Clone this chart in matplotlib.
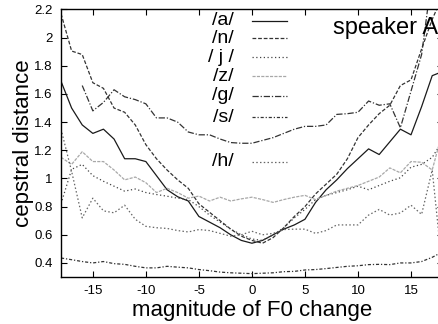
import matplotlib
matplotlib.use("Agg")
import matplotlib.pyplot as plt
import numpy as np

plt.rcParams['font.family'] = ['Liberation Sans', 'DejaVu Sans']

# magnitude of F0 change (semitone steps)
f0 = np.arange(-18, 19)

nan = np.nan
d_a = [1.69, 1.50, 1.38, 1.32, 1.35, 1.28, 1.14, 1.14, 1.12, 1.02, 0.92, 0.87, 0.84,
       0.73, 0.69, 0.65, 0.60, 0.56, 0.54, 0.56, 0.60, 0.64, 0.67, 0.71, 0.83, 0.92,
       0.99, 1.07, 1.14, 1.21, 1.17, 1.26, 1.35, 1.31, 1.51, 1.73, 1.76]
d_n = [2.17, 1.905, 1.88, 1.68, 1.64, 1.50, 1.47, 1.38, 1.24, 1.14, 1.06, 0.99, 0.93,
       0.82, 0.76, 0.70, 0.64, 0.59, 0.56, 0.54, 0.58, 0.65, 0.73, 0.80, 0.89, 0.96,
       1.03, 1.14, 1.29, 1.38, 1.46, 1.52, 1.66, 1.70, 1.92, 2.13, 2.30]
d_j = [0.82, 1.065, 1.10, 1.02, 0.98, 0.945, 0.91, 0.925, 0.90, 0.886, 0.874, 0.86, 0.85,
       0.80, 0.74, 0.69, 0.64, 0.60, 0.57, 0.56, 0.60, 0.65, 0.72, 0.78, 0.85, 0.88,
       0.90, 0.92, 0.945, 0.92, 0.95, 0.98, 1.005, 1.08, 1.10, 1.15, 1.27]
d_z = [1.15, 1.10, 1.19, 1.12, 1.12, 1.06, 0.99, 1.01, 0.97, 0.90, 0.93, 0.90, 0.86,
       0.875, 0.84, 0.867, 0.84, 0.855, 0.867, 0.85, 0.83, 0.85, 0.867, 0.88, 0.85, 0.88,
       0.91, 0.93, 0.95, 0.98, 1.01, 1.075, 1.04, 1.12, 1.115, 1.06, 1.34]
d_g = [nan, nan, 1.66, 1.48, 1.54, 1.63, 1.58, 1.56, 1.53, 1.43, 1.43, 1.40, 1.33,
       1.31, 1.31, 1.28, 1.255, 1.25, 1.25, 1.27, 1.29, 1.32, 1.35, 1.37, 1.37, 1.38,
       1.455, 1.46, 1.47, 1.55, 1.52, 1.53, 1.36, 1.62, 1.88, 2.45, nan]
d_s = [0.435, 0.423, 0.41, 0.40, 0.41, 0.395, 0.39, 0.376, 0.365, 0.365, 0.376, 0.37, 0.365,
       0.353, 0.345, 0.335, 0.33, 0.327, 0.324, 0.327, 0.33, 0.338, 0.34, 0.35, 0.353, 0.36,
       0.368, 0.376, 0.38, 0.388, 0.39, 0.388, 0.40, 0.40, 0.41, 0.44, 0.48]
d_h = [1.35, 1.05, 0.72, 0.86, 0.77, 0.756, 0.81, 0.71, 0.66, 0.65, 0.645, 0.63, 0.62,
       0.637, 0.63, 0.61, 0.59, 0.60, 0.625, 0.60, 0.61, 0.637, 0.64, 0.64, 0.61, 0.63,
       0.67, 0.67, 0.67, 0.74, 0.78, 0.74, 0.755, 0.81, 0.745, 1.06, 0.33]

labels = ['/a/', '/n/', '/ j /', '/z/', '/g/', '/s/', '/h/']
series = [d_a, d_n, d_j, d_z, d_g, d_s, d_h]
colors = ['#1a1a1a', '#333333', '#444444', '#a8a8a8', '#333333', '#333333', '#666666']
dashes = [None, (3, 1.5), (1, 2), (2.5, 1), (5, 1.5, 1, 1.5), (2.5, 1.5, 1, 1.5), (1.2, 1.8)]
key_y = [0.958, 0.892, 0.822, 0.750, 0.678, 0.598, 0.431]

yticks = [0.4, 0.6, 0.8, 1.0, 1.2, 1.4, 1.6, 1.8, 2.0, 2.2]
ytick_labels = ['0.4', '0.6', '0.8', '1', '1.2', '1.4', '1.6', '1.8', '2', '2.2']
xticks = [-15, -10, -5, 0, 5, 10, 15]

fig = plt.figure(figsize=(4.39, 3.24), dpi=100)
ax = fig.add_axes([0.139, 0.145, 0.8697, 0.8257])

for vals, lab, col, ds, ky in zip(series, labels, colors, dashes, key_y):
    line, = ax.plot(f0, vals, color=col, lw=0.9)
    if ds is not None:
        line.set_dashes(ds)
    # key entry drawn by hand, gnuplot style
    ax.text(0.452, ky, lab, transform=ax.transAxes, ha='right', va='center', fontsize=14)
    kl, = ax.plot([0.50, 0.592], [ky, ky], transform=ax.transAxes, color=col, lw=0.9)
    if ds is not None:
        kl.set_dashes(ds)

ax.text(0.712, 0.908, 'speaker A', transform=ax.transAxes, fontsize=17, va='baseline')

ax.set_xlim(-18, 18)
ax.set_ylim(0.3, 2.2)
ax.set_xticks(xticks)
ax.set_xticklabels([str(t) for t in xticks])
ax.set_yticks(yticks)
ax.set_yticklabels(ytick_labels)
ax.tick_params(direction='in', length=4, width=0.8, top=True, right=True,
               labelsize=9.5, pad=6)
for sp in ax.spines.values():
    sp.set_linewidth(1.0)

ax.set_xlabel('magnitude of F0 change', fontsize=16, labelpad=2)
ax.set_ylabel('cepstral distance', fontsize=16, labelpad=0)

fig.savefig('out.png', dpi=100)
